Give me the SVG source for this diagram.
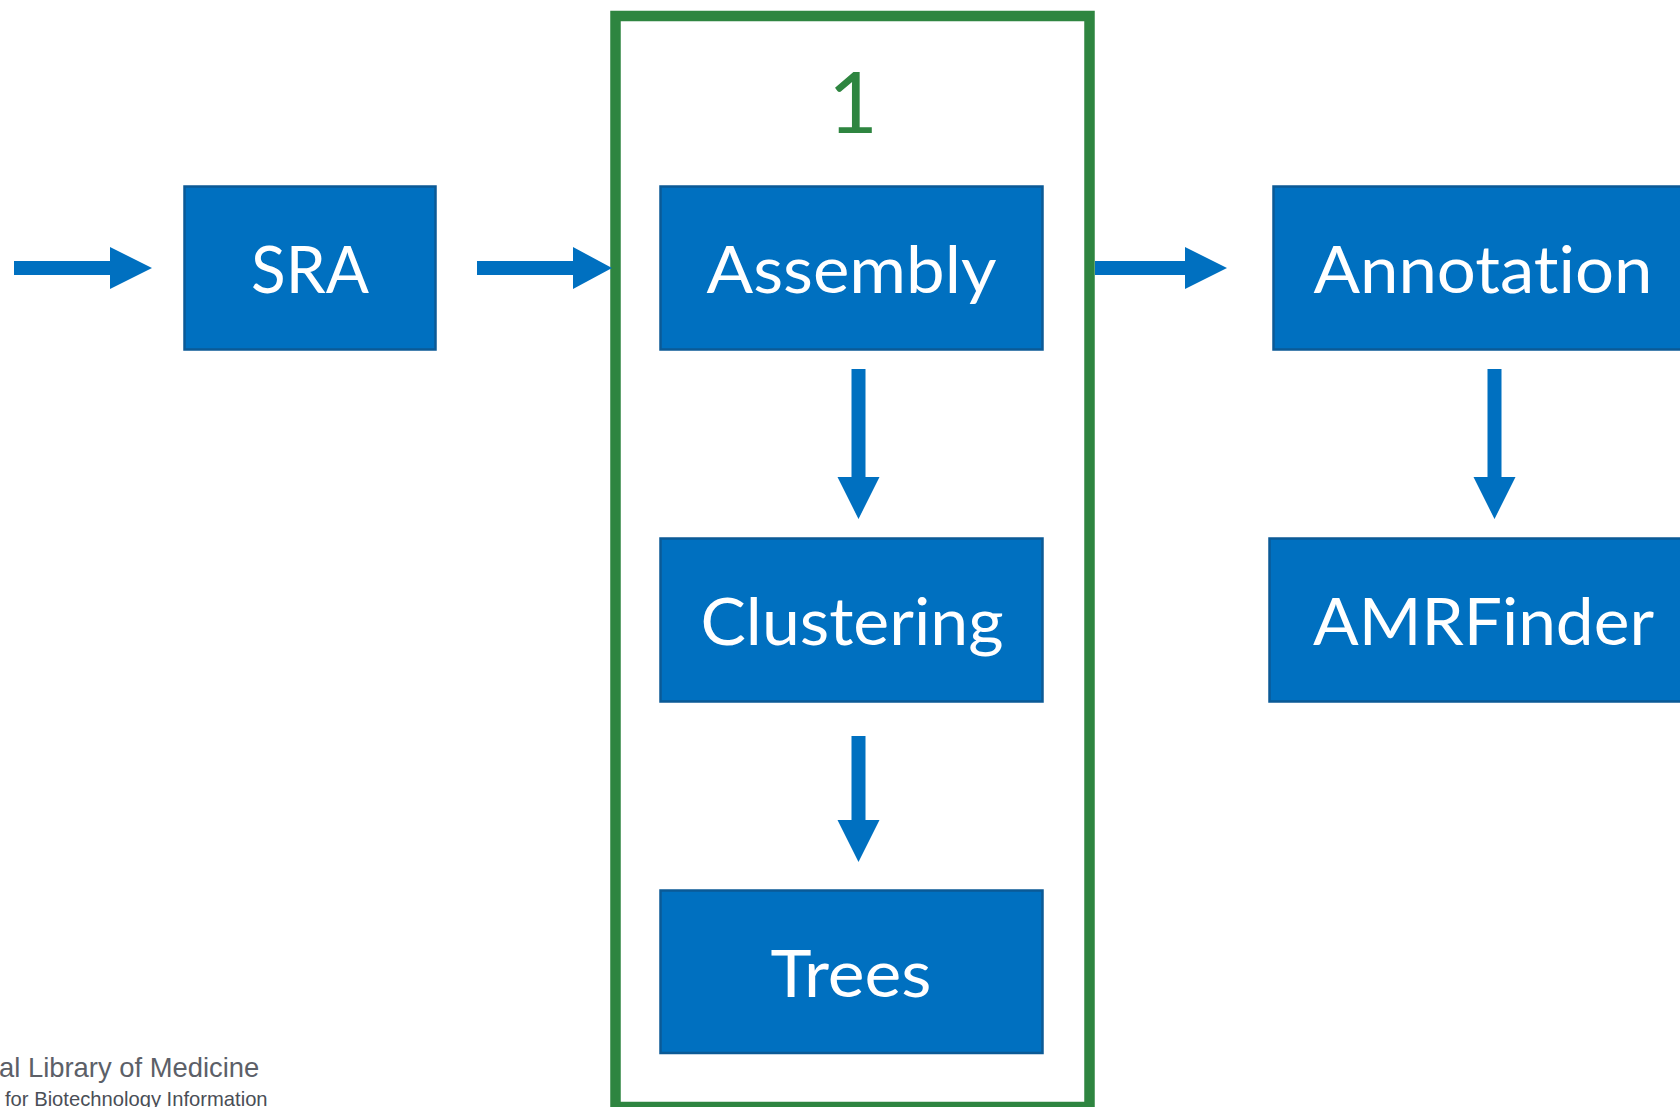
<svg xmlns="http://www.w3.org/2000/svg" width="1680" height="1107" viewBox="0 0 1680 1107">
<style>
.box{fill:#0070C0;stroke:#0B5A96;stroke-width:2.5}
.lbl{font-family:Lato,"Open Sans",sans-serif;font-size:66px;fill:#FFFFFF;text-anchor:middle;font-variant-ligatures:none;font-feature-settings:"liga" 0,"clig" 0,"dlig" 0}
.arr{fill:#0070C0}
.frame{fill:none;stroke:#2E8540;stroke-width:10.5}
.num{font-family:Lato,"Open Sans",sans-serif;font-size:86px;fill:#2E8540;text-anchor:middle}
.org1{font-family:"Liberation Sans",Arial,sans-serif;font-size:27.4px;fill:#5C6068}
.org2{font-family:"Liberation Sans",Arial,sans-serif;font-size:20.2px;fill:#4A4E56}
</style>
<rect width="1680" height="1107" fill="#FFFFFF"/>
<g id="group1">
<rect class="frame" x="615.5" y="16" width="474" height="1091"/>
<text class="num" x="853" y="133">1</text>
</g>
<g id="connectors">
<polygon class="arr" points="14,261 110,261 110,247 152,268 110,289 110,275 14,275"/>
<polygon class="arr" points="477,261 573,261 573,247 612,268 573,289 573,275 477,275"/>
<polygon class="arr" points="1095,261 1185,261 1185,247 1227,268 1185,289 1185,275 1095,275"/>
<polygon class="arr" points="851.5,369 865.5,369 865.5,477 879.5,477 858.5,519 837.5,477 851.5,477"/>
<polygon class="arr" points="851.5,736 865.5,736 865.5,820 879.5,820 858.5,862 837.5,820 851.5,820"/>
<polygon class="arr" points="1487.5,369 1501.5,369 1501.5,477 1515.5,477 1494.5,519 1473.5,477 1487.5,477"/>
</g>
<g id="sra">
<rect class="box" x="184.5" y="186.5" width="251" height="163"/>
<text class="lbl" x="310" y="293" textLength="118" lengthAdjust="spacingAndGlyphs">SRA</text>
</g>
<g id="assembly">
<rect class="box" x="660.5" y="186.5" width="382" height="163"/>
<text class="lbl" x="851.5" y="293" textLength="290" lengthAdjust="spacingAndGlyphs">Assembly</text>
</g>
<g id="clustering">
<rect class="box" x="660.5" y="538.5" width="382" height="163"/>
<text class="lbl" x="852" y="645" textLength="303" lengthAdjust="spacingAndGlyphs">Clustering</text>
</g>
<g id="trees">
<rect class="box" x="660.5" y="890.5" width="382" height="162.5"/>
<text class="lbl" x="851" y="997" textLength="161" lengthAdjust="spacingAndGlyphs">Trees</text>
</g>
<g id="annotation">
<rect class="box" x="1273.5" y="186.5" width="430" height="163"/>
<text class="lbl" x="1483" y="293" textLength="339" lengthAdjust="spacingAndGlyphs">Annotation</text>
</g>
<g id="amrfinder">
<rect class="box" x="1269.5" y="538.5" width="434" height="163"/>
<text class="lbl" x="1483.5" y="645" textLength="341" lengthAdjust="spacingAndGlyphs">AMRFinder</text>
</g>
<g id="footer">
<text class="org1" x="-1" y="1077">al Library of Medicine</text>
<text class="org2" x="5" y="1106">for Biotechnology Information</text>
</g>
</svg>
